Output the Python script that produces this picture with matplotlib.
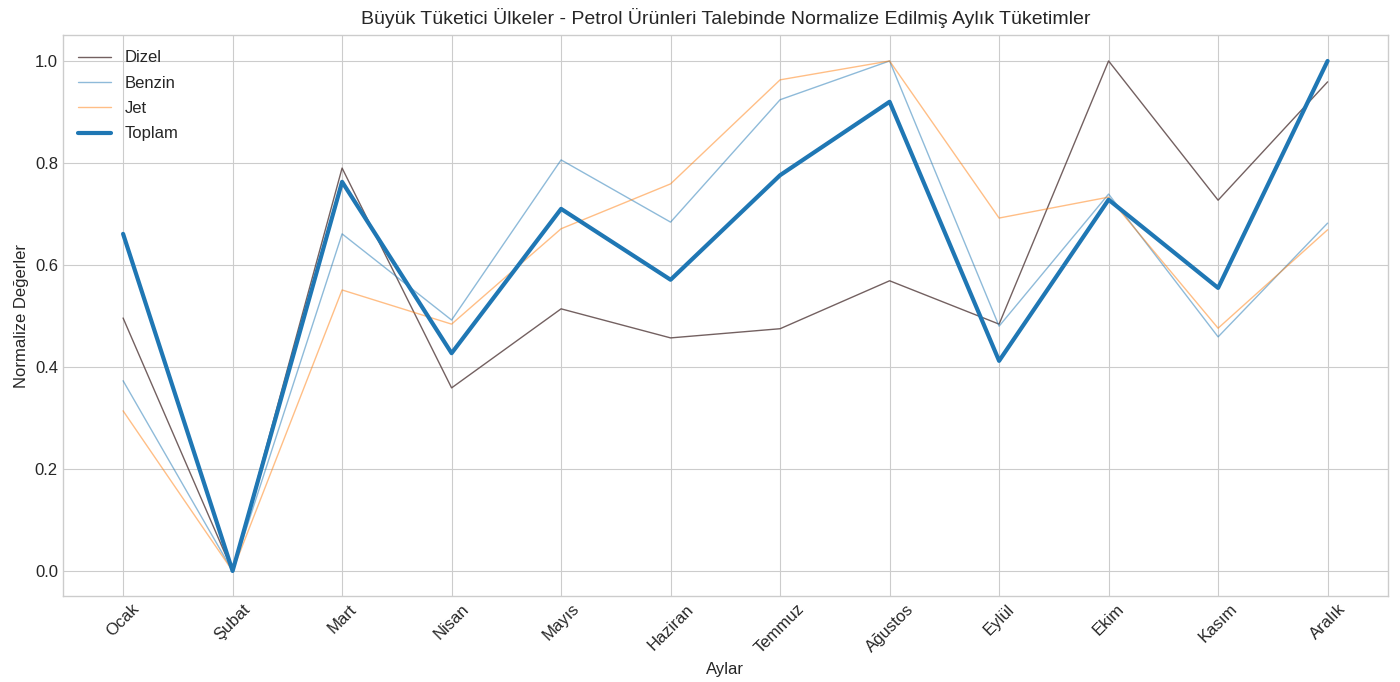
import matplotlib
matplotlib.use("Agg")
import matplotlib.pyplot as plt

plt.style.use("seaborn-v0_8-whitegrid")
plt.rcParams['font.family'] = ['Liberation Sans', 'DejaVu Sans']

months = ["Ocak", "Şubat", "Mart", "Nisan", "Mayıs", "Haziran", "Temmuz",
          "Ağustos", "Eylül", "Ekim", "Kasım", "Aralık"]
dizel = [0.496, 0.0, 0.790, 0.359, 0.514, 0.457, 0.475, 0.569, 0.484, 1.0, 0.727, 0.959]
benzin = [0.373, 0.0, 0.661, 0.492, 0.806, 0.684, 0.924, 1.0, 0.480, 0.739, 0.459, 0.682]
jet = [0.314, 0.0, 0.551, 0.484, 0.671, 0.759, 0.963, 1.0, 0.692, 0.733, 0.476, 0.669]
toplam = [0.661, 0.0, 0.763, 0.427, 0.710, 0.571, 0.776, 0.920, 0.412, 0.728, 0.555, 1.0]

fig = plt.figure(figsize=(14, 6.82), dpi=100)
ax = fig.add_axes([0.0449, 0.1254, 0.9464, 0.8226])

ax.plot(months, dizel, color="#5b4545", lw=1.0, alpha=0.85, label="Dizel")
ax.plot(months, benzin, color="#1f77b4", lw=1.0, alpha=0.5, label="Benzin")
ax.plot(months, jet, color="#ff7f0e", lw=1.0, alpha=0.5, label="Jet")
ax.plot(months, toplam, color="#1f77b4", lw=3.0, label="Toplam")

ax.set_title("Büyük Tüketici Ülkeler - Petrol Ürünleri Talebinde Normalize Edilmiş Aylık Tüketimler",
             fontsize=14, pad=8)
ax.set_xlabel("Aylar", fontsize=12)
ax.set_ylabel("Normalize Değerler", fontsize=12)
ax.tick_params(axis='x', labelsize=12, rotation=45)
ax.tick_params(axis='y', labelsize=12)
ax.set_xlim(-0.55, 11.55)
ax.set_ylim(-0.05, 1.05)
for s in ax.spines.values():
    s.set_visible(True)
    s.set_color("#cccccc")
ax.legend(loc="upper left", fontsize=12, frameon=False, labelspacing=0.62)

fig.savefig("out.png", dpi=100)
